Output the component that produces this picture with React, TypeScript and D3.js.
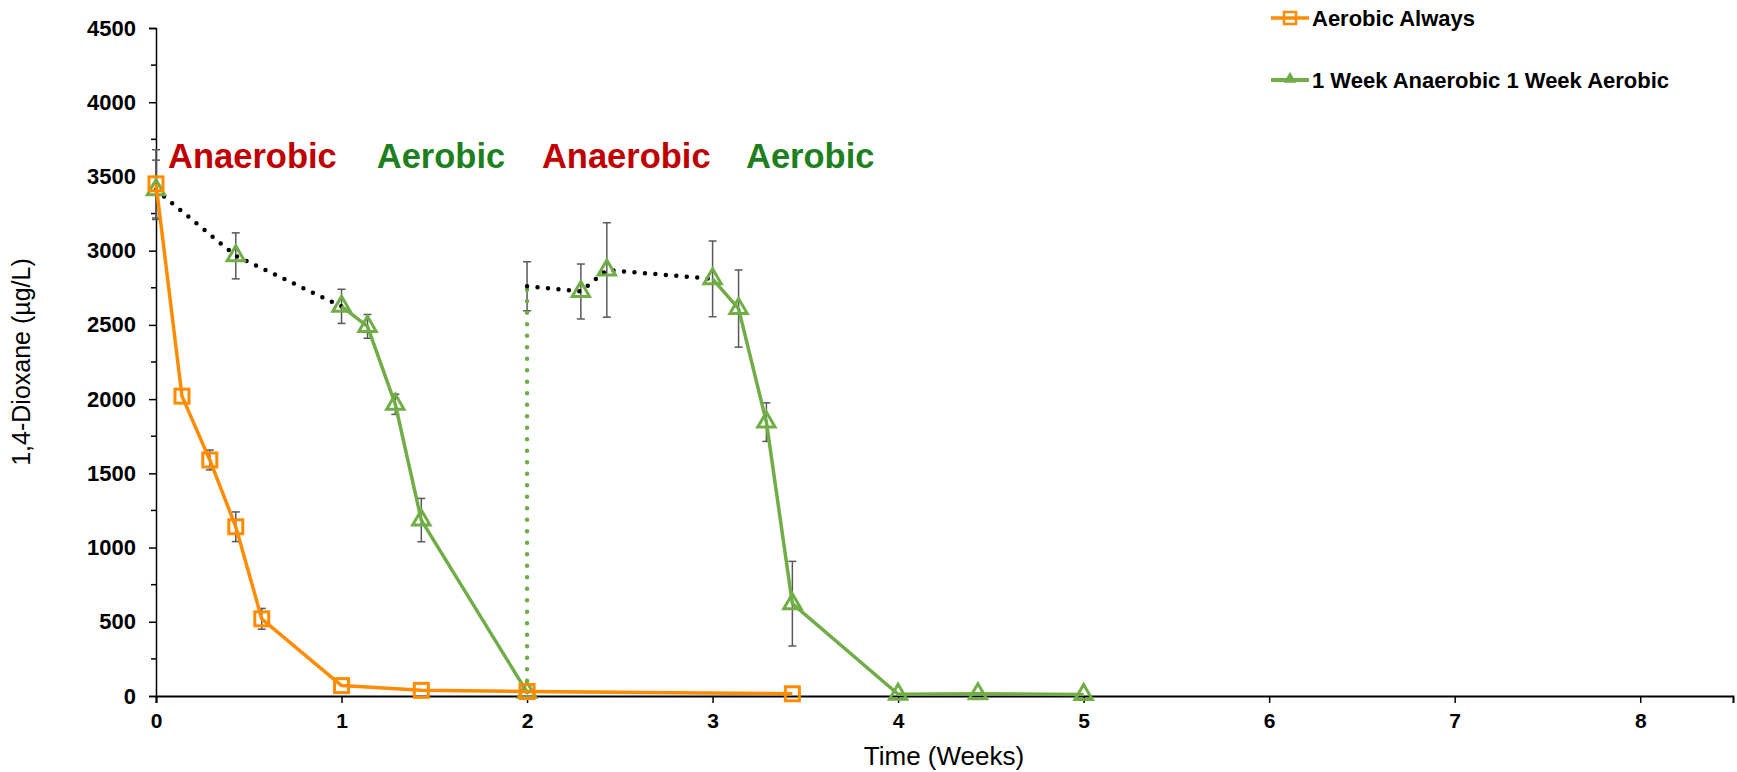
import React, { useEffect, useRef } from 'react';
import * as d3 from 'd3';

// Aerobic Always
const weeksAerobic = [0, 0.14, 0.29, 0.43, 0.57, 1, 1.43, 2, 3.43];
const dioxaneAerobic = [3450, 2020, 1590, 1140, 520, 70, 38, 30, 15];
const errAerobic = [230, 0, 67, 100, 70, 0, 0, 0, 0];

// 1 Week Anaerobic 1 Week Aerobic
const weeksCycled = [0, 0.43, 1, 1.14, 1.29, 1.43, 2, 2, 2.29, 2.43, 3, 3.14, 3.29, 3.43, 4, 4.43, 5];
const dioxaneCycled = [3410, 2965, 2625, 2490, 1965, 1185, 25, 2760, 2725, 2870, 2810, 2610, 1845, 622, 12, 15, 10];
const errCycled = [200, 155, 115, 80, 68, 146, 0, 165, 185, 318, 255, 260, 130, 285, 0, 0, 0];
const markerCycled = [1, 1, 1, 1, 1, 1, 1, 0, 1, 1, 1, 1, 1, 1, 1, 1, 1];
// style of each link between consecutive points
const linkCycled = ['anaerobic', 'anaerobic', 'aerobic', 'aerobic', 'aerobic', 'aerobic', 'switch',
  'anaerobic', 'anaerobic', 'anaerobic', 'aerobic', 'aerobic', 'aerobic', 'aerobic', 'aerobic', 'aerobic'];

const phaseLabels = ['Anaerobic', 'Aerobic', 'Anaerobic', 'Aerobic'];
const phaseStarts = [0.065, 1.19, 2.08, 3.18];

const yTicks = [0, 500, 1000, 1500, 2000, 2500, 3000, 3500, 4000, 4500];
const xTicks = [0, 1, 2, 3, 4, 5, 6, 7, 8];

const ORANGE = '#FF8C00';
const GREEN = '#70AD47';
const FONT = 'Arial, "Liberation Sans", sans-serif';

export default function App() {
  const ref = useRef<SVGSVGElement>(null);

  useEffect(() => {
    document.body.style.margin = '0';
    const W = 1737, H = 772;
    const svg = d3.select(ref.current).attr('width', W).attr('height', H);
    svg.selectAll('*').remove();

    const x = d3.scaleLinear().domain([0, 8.5]).range([156, 1733]);
    const y = d3.scaleLinear().domain([0, 4500]).range([696, 28]);

    // y axis
    const yAxis = d3.axisLeft(y).tickValues(yTicks).tickSize(7).tickPadding(13)
      .tickFormat(d => String(d));
    const gy = svg.append('g').attr('transform', `translate(${x(0)},0)`).call(yAxis);
    gy.select('.domain').attr('stroke', '#000').attr('stroke-width', 1.5);
    gy.selectAll('.tick line').attr('stroke', '#000').attr('stroke-width', 1.5);
    gy.selectAll('.tick text').attr('font-family', FONT).attr('font-size', 22)
      .attr('font-weight', 'bold').attr('fill', '#000');
    const minor = d3.range(250, 4500, 500);
    gy.selectAll('.minor').data(minor).enter().append('line')
      .attr('x1', -5).attr('x2', 0).attr('y1', d => y(d)).attr('y2', d => y(d))
      .attr('stroke', '#000').attr('stroke-width', 1.5);

    // x axis
    const xAxis = d3.axisBottom(x).tickValues(xTicks).tickSize(7).tickPadding(10)
      .tickFormat(d => String(d));
    const gx = svg.append('g').attr('transform', `translate(0,${y(0)})`).call(xAxis);
    gx.select('.domain').attr('stroke', '#000').attr('stroke-width', 2);
    gx.selectAll('.tick line').attr('stroke', '#000').attr('stroke-width', 1.5);
    gx.selectAll('.tick text').attr('font-family', FONT).attr('font-size', 21)
      .attr('font-weight', 'bold').attr('fill', '#000');

    // axis titles
    svg.append('text').attr('x', 944).attr('y', 765).attr('text-anchor', 'middle')
      .attr('font-family', FONT).attr('font-size', 26).text('Time (Weeks)');
    svg.append('text').attr('transform', 'translate(30,362) rotate(-90)').attr('text-anchor', 'middle')
      .attr('font-family', FONT).attr('font-size', 25).text('1,4-Dioxane (µg/L)');

    // phase annotations
    svg.selectAll('.phase').data(phaseLabels).enter().append('text')
      .attr('x', (d, i) => x(phaseStarts[i])).attr('y', 168)
      .attr('font-family', FONT).attr('font-size', 34.5).attr('font-weight', 'bold')
      .attr('fill', d => d === 'Anaerobic' ? '#C00000' : '#1E7F1E')
      .text(d => d);

    const errBars = (xs: number[], ys: number[], es: number[]) => {
      const g = svg.append('g');
      xs.forEach((xv, i) => {
        if (!es[i]) return;
        const cx = x(xv), y1 = y(ys[i] + es[i]), y2 = y(ys[i] - es[i]);
        g.append('line').attr('x1', cx).attr('x2', cx).attr('y1', y1).attr('y2', y2);
        g.append('line').attr('x1', cx - 4).attr('x2', cx + 4).attr('y1', y1).attr('y2', y1);
        g.append('line').attr('x1', cx - 4).attr('x2', cx + 4).attr('y1', y2).attr('y2', y2);
      });
      g.selectAll('line').attr('stroke', '#595959').attr('stroke-width', 1.5);
    };

    errBars(weeksCycled, dioxaneCycled, errCycled);
    errBars(weeksAerobic, dioxaneAerobic, errAerobic);

    // cycled series links
    const linkStyle: Record<string, any> = {
      anaerobic: { stroke: '#000', width: 4.5, dash: '0 10.5', cap: 'round' },
      aerobic: { stroke: GREEN, width: 3.5, dash: null, cap: 'butt' },
      switch: { stroke: GREEN, width: 4.5, dash: '0 11.5', cap: 'round' },
    };
    const line = d3.line<number>().x(i => x(weeksCycled[i])).y(i => y(dioxaneCycled[i]));
    // group consecutive links of same style
    let start = 0;
    for (let i = 1; i <= linkCycled.length; i++) {
      if (i === linkCycled.length || linkCycled[i] !== linkCycled[start]) {
        const s = linkStyle[linkCycled[start]];
        svg.append('path').attr('d', line(d3.range(start, i + 1)))
          .attr('fill', 'none').attr('stroke', s.stroke).attr('stroke-width', s.width)
          .attr('stroke-dasharray', s.dash).attr('stroke-linecap', s.cap)
          .attr('stroke-linejoin', 'round');
        start = i;
      }
    }

    const tri = d3.symbol().type(d3.symbolTriangle).size(130);
    svg.append('g').selectAll('path')
      .data(weeksCycled.map((w, i) => i).filter(i => markerCycled[i]))
      .enter().append('path')
      .attr('d', tri)
      .attr('transform', i => `translate(${x(weeksCycled[i])},${y(dioxaneCycled[i])})`)
      .attr('fill', 'none').attr('stroke', GREEN).attr('stroke-width', 3);

    // aerobic always
    const lineA = d3.line<number>().x((d, i) => x(weeksAerobic[i])).y(d => y(d));
    svg.append('path').attr('d', lineA(dioxaneAerobic)).attr('fill', 'none')
      .attr('stroke', ORANGE).attr('stroke-width', 3.5).attr('stroke-linejoin', 'round');
    svg.append('g').selectAll('rect').data(dioxaneAerobic).enter().append('rect')
      .attr('x', (d, i) => x(weeksAerobic[i]) - 7).attr('y', d => y(d) - 7)
      .attr('width', 14).attr('height', 14)
      .attr('fill', 'none').attr('stroke', ORANGE).attr('stroke-width', 3);

    // legend
    const leg = svg.append('g');
    leg.append('line').attr('x1', 1271).attr('x2', 1309).attr('y1', 18).attr('y2', 18)
      .attr('stroke', ORANGE).attr('stroke-width', 3.5);
    leg.append('rect').attr('x', 1284).attr('y', 12).attr('width', 12).attr('height', 12)
      .attr('fill', 'none').attr('stroke', ORANGE).attr('stroke-width', 2.5);
    leg.append('text').attr('x', 1312).attr('y', 26).attr('font-family', FONT)
      .attr('font-size', 22).attr('font-weight', 'bold').text('Aerobic Always');
    leg.append('line').attr('x1', 1271).attr('x2', 1309).attr('y1', 80).attr('y2', 80)
      .attr('stroke', GREEN).attr('stroke-width', 4);
    leg.append('path').attr('d', d3.symbol().type(d3.symbolTriangle).size(70)())
      .attr('transform', 'translate(1290,79)').attr('fill', GREEN);
    leg.append('text').attr('x', 1312).attr('y', 88).attr('font-family', FONT)
      .attr('font-size', 22).attr('font-weight', 'bold').text('1 Week Anaerobic 1 Week Aerobic');
  }, []);

  return <svg ref={ref} style={{ display: 'block' }} />;
}
